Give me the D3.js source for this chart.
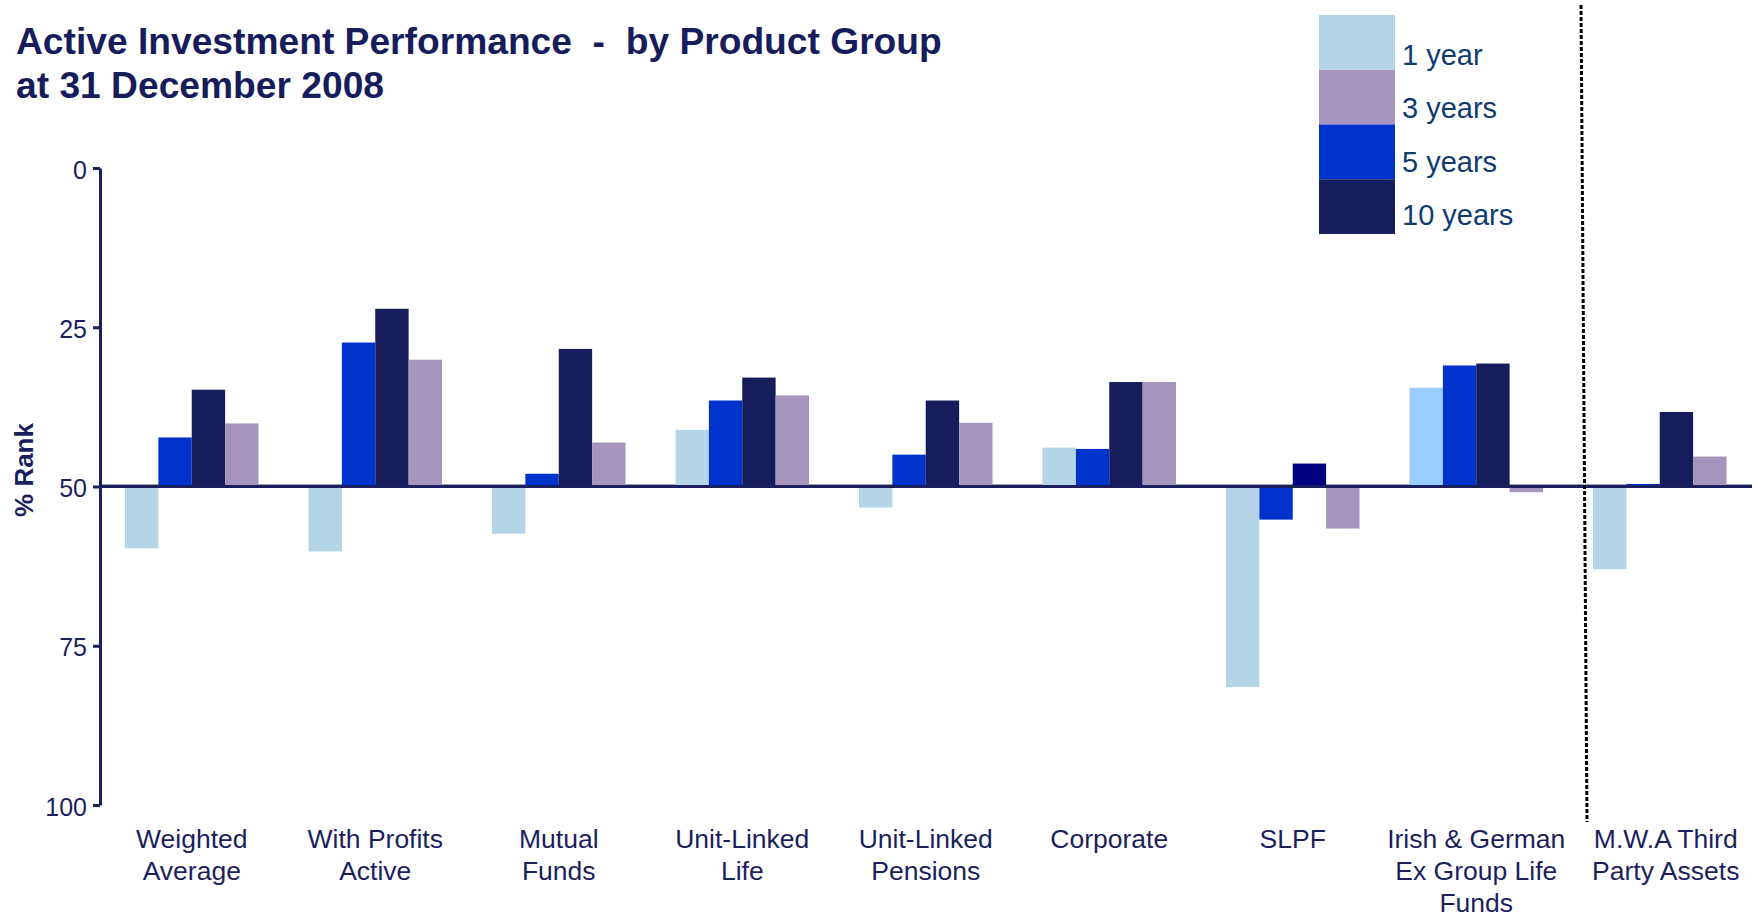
<!DOCTYPE html>
<html>
<head>
<meta charset="utf-8">
<script src="https://cdn.jsdelivr.net/npm/d3@7"></script>
<style>
body { margin: 0; background: #fff; }
text { font-family: "Liberation Sans", Arial, Helvetica, sans-serif; }
</style>
</head>
<body>
<script>
// categories (line breaks as in the original labels)
var categories = [
    "Weighted\nAverage",
    "With Profits\nActive",
    "Mutual\nFunds",
    "Unit-Linked\nLife",
    "Unit-Linked\nPensions",
    "Corporate",
    "SLPF",
    "Irish & German\nEx Group Life\nFunds",
    "M.W.A Third\nParty Assets"
];

// % rank values
var oneYear    = [59.7, 60.2, 57.4, 41.1, 53.3, 43.9, 81.5, 34.5, 63.0];
var fiveYears  = [42.3, 27.4, 48.0, 36.5, 45.0, 44.1, 55.2, 31.0, 49.6];
var tenYears   = [34.8, 22.1, 28.4, 32.9, 36.5, 33.6, 46.4, 30.7, 38.3];
var threeYears = [40.1, 30.1, 43.1, 35.7, 40.0, 33.6, 56.6, 50.9, 45.3];

var barOrder = ["1 year", "5 years", "10 years", "3 years"];
var legendOrder = ["1 year", "3 years", "5 years", "10 years"];
var yTicks = [0, 25, 50, 75, 100];
var median = 50;

var colors = {"1 year": "#b4d5e8", "3 years": "#a595be", "5 years": "#0033cc", "10 years": "#161d5a"};
// a couple of bars are drawn in a slightly different shade in the original
var colorOverride = {"SLPF|10 years": "#000080", "Irish & German\nEx Group Life\nFunds|1 year": "#99ccff"};

var navy = "#1b1f5e";
var width = 1757, height = 917;

var table = [];
categories.forEach(function(c, i) {
    var vals = {"1 year": oneYear[i], "3 years": threeYears[i], "5 years": fiveYears[i], "10 years": tenYears[i]};
    barOrder.forEach(function(s) {
        table.push({cat: c, series: s, value: vals[s]});
    });
});

var svg = d3.select("body").append("svg")
            .attr("width", width)
            .attr("height", height);

var x = d3.scaleBand().domain(categories).range([100, 1751.5])
          .paddingInner(0.2725).paddingOuter(0.13625);
var xs = d3.scaleBand().domain(barOrder).range([0, x.bandwidth()]);
var y = d3.scaleLinear().domain([0, 100]).range([168, 805]);

// title
svg.append("text")
   .attr("x", 16).attr("y", 54)
   .attr("font-size", 37.2).attr("font-weight", "bold").attr("fill", "#161d5a")
   .attr("xml:space", "preserve")
   .text("Active Investment Performance  -  by Product Group");
svg.append("text")
   .attr("x", 16).attr("y", 98)
   .attr("font-size", 37.2).attr("font-weight", "bold").attr("fill", "#161d5a")
   .text("at 31 December 2008");

// faint line at the median, under the bars
svg.append("line")
   .attr("x1", 100).attr("x2", 1752)
   .attr("y1", y(median) - 2).attr("y2", y(median) - 2)
   .attr("stroke", "#a0a0b8").attr("stroke-width", 1);

svg.append("g")
   .selectAll("rect")
   .data(table)
   .join("rect")
   .attr("x", d => x(d.cat) + xs(d.series))
   .attr("width", xs.bandwidth())
   .attr("y", d => Math.min(y(d.value), y(median)))
   .attr("height", d => Math.abs(y(d.value) - y(median)))
   .attr("fill", d => colorOverride[d.cat + "|" + d.series] || colors[d.series]);

// median line
svg.append("line")
   .attr("x1", 100).attr("x2", 1752)
   .attr("y1", y(median)).attr("y2", y(median))
   .attr("stroke", navy).attr("stroke-width", 3);

// y axis
var yAxis = svg.append("g")
   .attr("transform", "translate(100,0)")
   .call(d3.axisLeft(y).tickValues(yTicks).tickSize(7).tickSizeOuter(0).tickPadding(6));
yAxis.select(".domain").attr("stroke", navy).attr("stroke-width", 3);
yAxis.selectAll(".tick line").attr("stroke", navy).attr("stroke-width", 3);
yAxis.selectAll(".tick text")
     .attr("font-size", 25).attr("font-family", null).attr("fill", navy).attr("dy", "0.4em");

svg.append("text")
   .attr("transform", "translate(33,470) rotate(-90)")
   .attr("text-anchor", "middle")
   .attr("font-size", 26).attr("font-weight", "bold").attr("fill", navy)
   .text("% Rank");

// category labels
var xAxis = svg.append("g")
   .attr("transform", "translate(0,805)")
   .call(d3.axisBottom(x).tickSize(0).tickPadding(0));
xAxis.select(".domain").remove();
xAxis.selectAll(".tick text").each(function(d, i) {
    var t = d3.select(this).text("").attr("y", 43).attr("dy", null)
              .attr("font-size", 26.5).attr("font-family", null).attr("fill", navy);
    // the last label sits a little right of its bars in the original
    var dx = i === categories.length - 1 ? 6 : 0;
    d.split("\n").forEach(function(line, j) {
        t.append("tspan").attr("x", dx).attr("dy", j ? 32 : 0).text(line);
    });
});

// dotted separator before the last group
var sepX = x(categories[8]) - 12;
svg.append("line")
   .attr("x1", sepX).attr("y1", 5)
   .attr("x2", sepX + 6).attr("y2", 822)
   .attr("stroke", "#000").attr("stroke-width", 3)
   .attr("stroke-dasharray", "4,2");

// legend
var legend = svg.append("g").attr("transform", "translate(1319,15)");
legend.selectAll("rect")
      .data(legendOrder)
      .join("rect")
      .attr("x", 0).attr("y", (d, i) => i * 54.75)
      .attr("width", 76).attr("height", 54.75)
      .attr("fill", d => colors[d]);
legend.selectAll("text")
      .data(legendOrder)
      .join("text")
      .attr("x", 83).attr("y", (d, i) => 50 + i * 53.4)
      .attr("font-size", 29).attr("fill", "#0f3b6e")
      .text(d => d);
</script>
</body>
</html>
